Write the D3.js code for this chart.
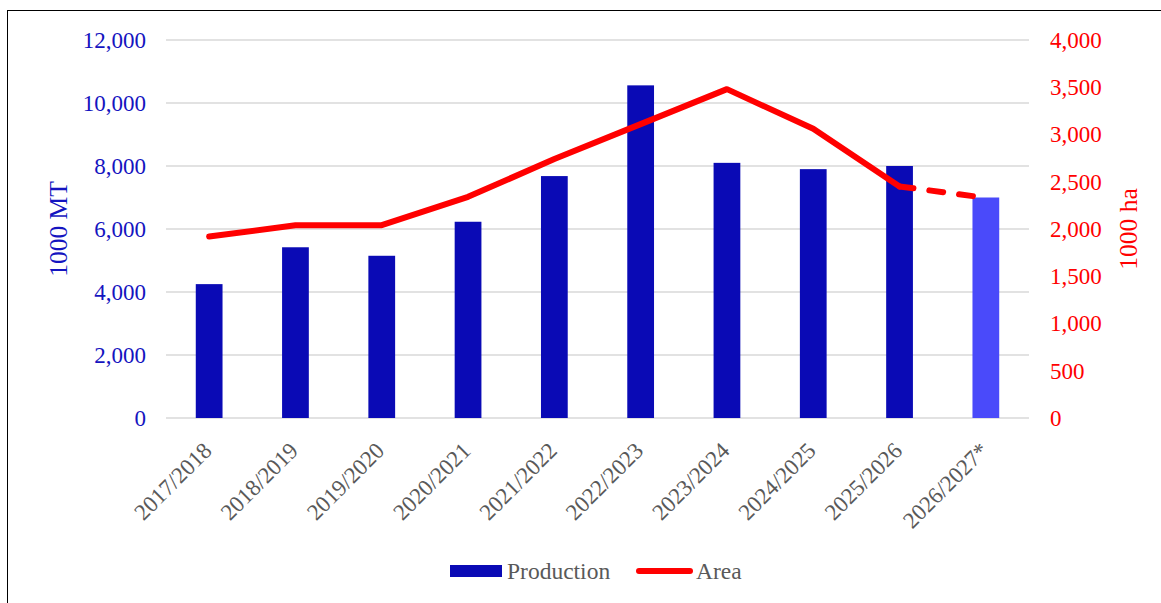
<!DOCTYPE html>
<html>
<head>
<meta charset="utf-8">
<script src="https://cdn.jsdelivr.net/npm/d3@7"></script>
<style>
  html, body { margin: 0; padding: 0; background: #fff; }
  svg { display: block; }
</style>
</head>
<body>
<svg id="chart" width="1161" height="603" style="font-family:'Liberation Serif'"></svg>
<script>
// Marketing years (last one is a forecast)
const seasons = ["2017/2018", "2018/2019", "2019/2020", "2020/2021", "2021/2022",
                 "2022/2023", "2023/2024", "2024/2025", "2025/2026", "2026/2027*"];
// Production, 1000 MT
const production = [4250, 5420, 5150, 6230, 7680, 10560, 8100, 7900, 8000, 7000];
// Harvested area, 1000 ha
const area = [1920, 2040, 2040, 2340, 2740, 3110, 3480, 3060, 2450, 2330];
// Index of the first forecast season
const forecastIndex = 9;
const leftTicks = [0, 2000, 4000, 6000, 8000, 10000, 12000];
const rightTicks = [0, 500, 1000, 1500, 2000, 2500, 3000, 3500, 4000];

const SERIF = "'Liberation Serif', 'Times New Roman', serif";
const svg = d3.select("#chart");
const W = 1161, H = 603;
const plot = { left: 166, right: 1029, top: 40, bottom: 418 };

const fmt = d3.format(",");
const barColor = "#0a0ab5";
const forecastBarColor = "#4a4afa";
const lineColor = "#ff0000";
const leftColor = "#1414c0";

function serifText(sel, size, color) {
  return sel.attr("font-family", SERIF).style("font-family", SERIF)
    .attr("font-size", size).style("font-size", size + "px").attr("fill", color);
}

// Outer frame
svg.append("rect")
  .attr("x", 7.5).attr("y", 10.5)
  .attr("width", W).attr("height", H)
  .attr("fill", "none").attr("stroke", "#000").attr("stroke-width", 1);

const x = d3.scaleBand().domain(seasons).range([plot.left, plot.right]).paddingInner(0.69).paddingOuter(0.345);
const xc = d => x(d) + x.bandwidth() / 2;
const yL = d3.scaleLinear().domain([0, 12000]).range([plot.bottom, plot.top]);
const yR = d3.scaleLinear().domain([0, 4000]).range([plot.bottom, plot.top]);

// Horizontal gridlines on the production scale
svg.append("g").selectAll("line").data(leftTicks).join("line")
  .attr("x1", plot.left).attr("x2", plot.right)
  .attr("y1", d => yL(d)).attr("y2", d => yL(d))
  .attr("stroke", "#d9d9d9").attr("stroke-width", 1.5);

// Left axis (production)
const leftAxis = svg.append("g")
  .attr("transform", `translate(${plot.left - 20},0)`)
  .call(d3.axisLeft(yL).tickValues(leftTicks).tickFormat(fmt).tickSize(0).tickPadding(0));
leftAxis.attr("font-family", SERIF);
leftAxis.select(".domain").remove();
serifText(leftAxis.selectAll("text"), 23, leftColor);

// Right axis (area)
const rightAxis = svg.append("g")
  .attr("transform", `translate(${plot.right + 21},0)`)
  .call(d3.axisRight(yR).tickValues(rightTicks).tickFormat(fmt).tickSize(0).tickPadding(0));
rightAxis.attr("font-family", SERIF);
rightAxis.select(".domain").remove();
serifText(rightAxis.selectAll("text"), 23, lineColor);

// Axis titles
serifText(svg.append("text"), 25.5, leftColor)
  .attr("transform", `translate(67,${(plot.top + plot.bottom) / 2}) rotate(-90)`)
  .attr("text-anchor", "middle")
  .text("1000 MT");
serifText(svg.append("text"), 25.5, lineColor)
  .attr("transform", `translate(1137,${(plot.top + plot.bottom) / 2}) rotate(-90)`)
  .attr("text-anchor", "middle")
  .text("1000 ha");

// Production bars
svg.append("g").selectAll("rect").data(seasons).join("rect")
  .attr("x", d => x(d))
  .attr("width", x.bandwidth())
  .attr("y", (d, i) => yL(production[i]))
  .attr("height", (d, i) => yL(0) - yL(production[i]))
  .attr("fill", (d, i) => i >= forecastIndex ? forecastBarColor : barColor);

// Area line: solid for actual seasons, dashed into the forecast
const pts = seasons.map((s, i) => [xc(s), yR(area[i])]);
const line = d3.line();
svg.append("path")
  .attr("d", line(pts.slice(0, forecastIndex)))
  .attr("fill", "none").attr("stroke", lineColor)
  .attr("stroke-width", 6).attr("stroke-linejoin", "round").attr("stroke-linecap", "round");
svg.append("path")
  .attr("d", line(pts.slice(forecastIndex - 1)))
  .attr("fill", "none").attr("stroke", lineColor)
  .attr("stroke-width", 6).attr("stroke-linecap", "round")
  .attr("stroke-dasharray", "14,16");

// Category labels, rotated
serifText(svg.append("g").selectAll("text").data(seasons).join("text"), 23, "#595959")
  .attr("transform", d => `translate(${xc(d) + 4},452) rotate(-45)`)
  .attr("text-anchor", "end")
  .text(d => d);

// Legend
const legend = svg.append("g");
legend.append("rect")
  .attr("x", 450).attr("y", 565).attr("width", 52).attr("height", 12)
  .attr("fill", barColor);
serifText(legend.append("text"), 23.5, "#595959")
  .attr("x", 507).attr("y", 579)
  .text("Production");
legend.append("line")
  .attr("x1", 639).attr("x2", 690).attr("y1", 571).attr("y2", 571)
  .attr("stroke", lineColor).attr("stroke-width", 6).attr("stroke-linecap", "round");
serifText(legend.append("text"), 23.5, "#595959")
  .attr("x", 696).attr("y", 579)
  .text("Area");
</script>
</body>
</html>
